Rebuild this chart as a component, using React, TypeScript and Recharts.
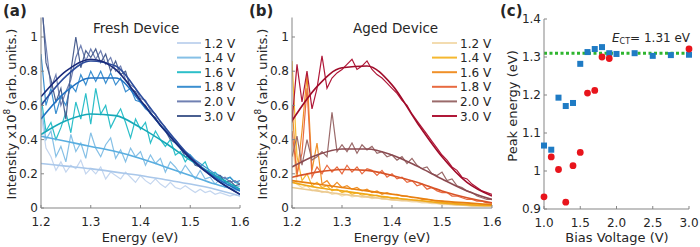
import React from 'react';
import { LineChart, Line, XAxis, YAxis, ScatterChart, Scatter, ReferenceLine, Legend } from 'recharts';

// x grid of the measured spectra (eV)
const ENERGY = [
  1.2, 1.21, 1.22, 1.23, 1.24, 1.25, 1.26, 1.27, 1.28, 1.29,
  1.3, 1.31, 1.32, 1.33, 1.34, 1.35, 1.36, 1.37, 1.38, 1.39,
  1.4, 1.41, 1.42, 1.43, 1.44, 1.45, 1.46, 1.47, 1.48, 1.49,
  1.5, 1.51, 1.52, 1.53, 1.54, 1.55, 1.56, 1.57, 1.58, 1.59, 1.6,
];
// x grid of the gaussian fits
const FIT_ENERGY = [1.2, 1.25, 1.3, 1.35, 1.4, 1.45, 1.5, 1.55, 1.6];
const VOLTAGES = ['1.2 V', '1.4 V', '1.6 V', '1.8 V', '2.0 V', '3.0 V'];

// (a) fresh device, measured
const FRESH_RAW_12 = [0.55, 0.35, 0.30, 0.22, 0.27, 0.21, 0.25, 0.23, 0.28, 0.20, 0.23, 0.20, 0.24, 0.17, 0.21, 0.19, 0.17, 0.21, 0.18, 0.15, 0.19, 0.16, 0.14, 0.17, 0.14, 0.12, 0.15, 0.12, 0.11, 0.13, 0.11, 0.09, 0.11, 0.09, 0.10, 0.08, 0.09, 0.08, 0.07, 0.08, 0.07];
const FRESH_RAW_14 = [0.60, 0.40, 0.45, 0.30, 0.36, 0.27, 0.43, 0.33, 0.38, 0.29, 0.44, 0.35, 0.30, 0.37, 0.41, 0.29, 0.34, 0.27, 0.35, 0.30, 0.33, 0.25, 0.31, 0.26, 0.29, 0.21, 0.27, 0.24, 0.20, 0.25, 0.21, 0.17, 0.22, 0.17, 0.18, 0.14, 0.17, 0.12, 0.14, 0.12, 0.13];
const FRESH_RAW_16 = [0.65, 0.45, 0.50, 0.40, 0.47, 0.56, 0.44, 0.62, 0.52, 0.67, 0.49, 0.70, 0.55, 0.60, 0.47, 0.53, 0.58, 0.50, 0.41, 0.52, 0.46, 0.50, 0.38, 0.45, 0.40, 0.36, 0.40, 0.31, 0.33, 0.27, 0.31, 0.26, 0.24, 0.27, 0.20, 0.21, 0.18, 0.16, 0.18, 0.15, 0.14];
const FRESH_RAW_18 = [0.90, 0.60, 0.70, 0.55, 0.65, 0.60, 0.72, 0.68, 0.78, 0.72, 0.80, 0.74, 0.80, 0.73, 0.79, 0.72, 0.76, 0.68, 0.70, 0.63, 0.62, 0.58, 0.56, 0.52, 0.48, 0.46, 0.42, 0.40, 0.36, 0.33, 0.31, 0.28, 0.26, 0.24, 0.22, 0.20, 0.19, 0.17, 0.18, 0.15, 0.16];
const FRESH_RAW_20 = [1.20, 0.95, 0.70, 0.78, 0.60, 0.68, 0.75, 0.88, 0.95, 0.86, 0.93, 0.87, 0.92, 0.84, 0.88, 0.80, 0.83, 0.75, 0.72, 0.70, 0.64, 0.63, 0.57, 0.55, 0.50, 0.47, 0.42, 0.40, 0.35, 0.33, 0.29, 0.27, 0.25, 0.22, 0.21, 0.19, 0.17, 0.18, 0.15, 0.16, 0.14];
const FRESH_RAW_30 = [1.30, 0.85, 0.75, 0.62, 0.70, 0.52, 0.80, 1.00, 0.82, 0.92, 0.88, 0.93, 0.85, 0.90, 0.80, 0.86, 0.78, 0.80, 0.70, 0.68, 0.62, 0.60, 0.55, 0.53, 0.48, 0.45, 0.40, 0.38, 0.35, 0.30, 0.30, 0.25, 0.24, 0.22, 0.20, 0.18, 0.19, 0.15, 0.16, 0.13, 0.14];

// (a) fresh device, fits
const FRESH_FIT_12 = [0.26, 0.245, 0.23, 0.21, 0.19, 0.165, 0.14, 0.11, 0.07];
const FRESH_FIT_14 = [0.42, 0.39, 0.36, 0.33, 0.29, 0.24, 0.19, 0.14, 0.10];
const FRESH_FIT_16 = [0.43, 0.51, 0.55, 0.54, 0.47, 0.38, 0.28, 0.19, 0.11];
const FRESH_FIT_18 = [0.52, 0.68, 0.76, 0.76, 0.62, 0.45, 0.29, 0.18, 0.10];
const FRESH_FIT_20 = [0.60, 0.77, 0.86, 0.83, 0.66, 0.47, 0.30, 0.17, 0.08];
const FRESH_FIT_30 = [0.65, 0.80, 0.87, 0.81, 0.63, 0.45, 0.29, 0.17, 0.08];

// (b) aged device, measured
const AGED_RAW_12 = [0.40, 0.14, 0.12, 0.13, 0.10, 0.11, 0.09, 0.10, 0.08, 0.085, 0.07, 0.08, 0.065, 0.07, 0.06, 0.065, 0.055, 0.06, 0.05, 0.05, 0.045, 0.045, 0.04, 0.04, 0.035, 0.035, 0.03, 0.03, 0.025, 0.025, 0.02, 0.02, 0.02, 0.015, 0.015, 0.015, 0.01, 0.01, 0.01, 0.01, 0.01];
const AGED_RAW_14 = [0.86, 0.30, 0.16, 0.20, 0.13, 0.15, 0.12, 0.13, 0.10, 0.11, 0.09, 0.10, 0.08, 0.09, 0.075, 0.08, 0.07, 0.075, 0.06, 0.065, 0.055, 0.06, 0.05, 0.05, 0.045, 0.045, 0.04, 0.04, 0.035, 0.035, 0.03, 0.03, 0.025, 0.025, 0.02, 0.02, 0.02, 0.015, 0.015, 0.015, 0.015];
const AGED_RAW_16 = [0.60, 0.18, 0.45, 0.78, 0.22, 0.38, 0.14, 0.16, 0.12, 0.15, 0.12, 0.13, 0.11, 0.12, 0.10, 0.11, 0.09, 0.10, 0.08, 0.09, 0.08, 0.08, 0.07, 0.07, 0.06, 0.06, 0.05, 0.05, 0.045, 0.04, 0.04, 0.035, 0.035, 0.03, 0.03, 0.03, 0.025, 0.025, 0.02, 0.02, 0.02];
const AGED_RAW_18 = [0.45, 0.20, 0.32, 0.70, 0.18, 0.24, 0.20, 0.25, 0.21, 0.24, 0.20, 0.25, 0.21, 0.24, 0.20, 0.23, 0.22, 0.19, 0.22, 0.18, 0.20, 0.17, 0.18, 0.15, 0.16, 0.13, 0.14, 0.11, 0.12, 0.10, 0.09, 0.09, 0.07, 0.07, 0.06, 0.05, 0.05, 0.04, 0.04, 0.03, 0.03];
const AGED_RAW_20 = [0.30, 0.42, 0.25, 0.40, 0.28, 0.30, 0.33, 0.30, 0.56, 0.33, 0.37, 0.33, 0.38, 0.32, 0.37, 0.34, 0.36, 0.32, 0.33, 0.30, 0.31, 0.28, 0.30, 0.26, 0.29, 0.25, 0.23, 0.24, 0.20, 0.19, 0.21, 0.16, 0.17, 0.13, 0.12, 0.10, 0.09, 0.07, 0.06, 0.05, 0.05];
const AGED_RAW_30 = [0.50, 0.84, 0.62, 0.80, 0.58, 0.70, 0.89, 0.70, 0.76, 0.79, 0.81, 0.84, 0.87, 0.81, 0.83, 0.86, 0.81, 0.78, 0.76, 0.73, 0.70, 0.67, 0.63, 0.60, 0.55, 0.51, 0.47, 0.43, 0.39, 0.35, 0.31, 0.28, 0.24, 0.22, 0.18, 0.17, 0.14, 0.12, 0.10, 0.09, 0.08];

// (b) aged device, fits
const AGED_FIT_12 = [0.12, 0.10, 0.08, 0.065, 0.05, 0.04, 0.025, 0.015, 0.01];
const AGED_FIT_14 = [0.15, 0.12, 0.10, 0.08, 0.06, 0.045, 0.03, 0.02, 0.015];
const AGED_FIT_16 = [0.16, 0.14, 0.12, 0.10, 0.08, 0.06, 0.04, 0.03, 0.02];
const AGED_FIT_18 = [0.18, 0.21, 0.225, 0.22, 0.19, 0.15, 0.10, 0.06, 0.03];
const AGED_FIT_20 = [0.24, 0.31, 0.345, 0.345, 0.31, 0.245, 0.17, 0.10, 0.05];
const AGED_FIT_30 = [0.51, 0.71, 0.82, 0.83, 0.72, 0.50, 0.30, 0.15, 0.07];

// (c) peak energy vs bias
const FRESH_BIAS = [1.0, 1.1, 1.2, 1.3, 1.4, 1.5, 1.6, 1.7, 1.8, 1.9, 2.0, 2.25, 2.5, 2.75, 3.0];
const FRESH_PEAK = [1.067, 1.056, 1.193, 1.171, 1.179, 1.282, 1.313, 1.321, 1.326, 1.31, 1.308, 1.31, 1.303, 1.305, 1.306];
const AGED_BIAS = [1.0, 1.1, 1.2, 1.3, 1.4, 1.5, 1.6, 1.7, 1.8, 1.9, 3.0];
const AGED_PEAK = [0.932, 1.037, 1.004, 0.918, 1.014, 1.049, 1.205, 1.212, 1.3, 1.296, 1.321];
const E_CT = 1.31;

const FRESH_RAW_COLORS = ['#c4d6ef', '#86c0e6', '#2cbfc9', '#3b8fd0', '#7080b2', '#4a5f90'];
const FRESH_FIT_COLORS = ['#a9c7ea', '#5aaee0', '#17a9b8', '#2072c2', '#2c4c9c', '#1a2a7a'];
const AGED_RAW_COLORS = ['#f3dcb0', '#f5b830', '#f09028', '#e86a40', '#9a6a6a', '#b01838'];
const AGED_FIT_COLORS = ['#ebc98f', '#f0a818', '#e88010', '#d85428', '#8a4a50', '#a00c2a'];

const FONT = '"DejaVu Sans", Verdana, sans-serif';
const AXIS = '#858585';
const TEXT = '#262626';

const buildRows = (raw: number[][], fit: number[][]) =>
  ENERGY.map((e, i) => {
    const row: any = { e };
    raw.forEach((s, k) => { row['r' + k] = s[i]; });
    const j = FIT_ENERGY.findIndex((f) => Math.abs(f - e) < 1e-6);
    fit.forEach((s, k) => { row['f' + k] = j >= 0 ? s[j] : null; });
    return row;
  });

const freshRows = buildRows(
  [FRESH_RAW_12, FRESH_RAW_14, FRESH_RAW_16, FRESH_RAW_18, FRESH_RAW_20, FRESH_RAW_30],
  [FRESH_FIT_12, FRESH_FIT_14, FRESH_FIT_16, FRESH_FIT_18, FRESH_FIT_20, FRESH_FIT_30],
);
const agedRows = buildRows(
  [AGED_RAW_12, AGED_RAW_14, AGED_RAW_16, AGED_RAW_18, AGED_RAW_20, AGED_RAW_30],
  [AGED_FIT_12, AGED_FIT_14, AGED_FIT_16, AGED_FIT_18, AGED_FIT_20, AGED_FIT_30],
);
const freshPoints = FRESH_BIAS.map((v, i) => ({ v, p: FRESH_PEAK[i] }));
const agedPoints = AGED_BIAS.map((v, i) => ({ v, p: AGED_PEAK[i] }));

const tickStyle = { fontSize: 12, fill: TEXT, fontFamily: FONT };
const fmtY = (v: number) => (v === 0 ? '0' : v === 1 ? '1' : v.toFixed(1));

const LegendBox = ({ colors, lineLen, gap }: { colors: string[]; lineLen: number; gap: number }) => (
  <svg width={80} height={95} style={{ overflow: 'visible' }}>
    {VOLTAGES.map((name, k) => {
      const y = 8 + k * 14.6;
      return (
        <g key={name}>
          <line x1={0} x2={lineLen} y1={y} y2={y} stroke={colors[k]} strokeWidth={2} />
          <text x={lineLen + gap} y={y + 4.5} fontSize={12} fill={TEXT} fontFamily={FONT}>{name}</text>
        </g>
      );
    })}
  </svg>
);

const SpectrumChart = ({ rows, rawColors, fitColors, left, width, marginLeft, marginRight, legendLeft, lineLen }: any) => (
  <div style={{ position: 'absolute', left, top: 0 }}>
    <LineChart width={width} height={247} data={rows} margin={{ top: 17.5, right: marginRight, bottom: 19, left: marginLeft }}>
      <XAxis dataKey="e" type="number" domain={[1.2, 1.6]} ticks={[1.2, 1.3, 1.4, 1.5, 1.6]} allowDataOverflow
        tickFormatter={(v: number) => v.toFixed(1)} stroke={AXIS} tick={tickStyle} tickSize={-3} tickMargin={12} height={20} />
      <XAxis xAxisId="top" orientation="top" type="number" domain={[1.2, 1.6]} ticks={[1.2, 1.3, 1.4, 1.5, 1.6]}
        stroke={AXIS} tick={false} tickSize={-3} height={0} />
      <YAxis type="number" domain={[0, 1.114]} ticks={[0, 0.2, 0.4, 0.6, 0.8, 1]} allowDataOverflow
        tickFormatter={fmtY} stroke={AXIS} tick={tickStyle} tickSize={-3} tickMargin={6} width={30} />
      <YAxis yAxisId="right" orientation="right" type="number" domain={[0, 1.114]} ticks={[0, 0.2, 0.4, 0.6, 0.8, 1]}
        stroke={AXIS} tick={false} tickSize={-3} width={0} />
      <Legend layout="vertical" align="center" verticalAlign="middle"
        wrapperStyle={{ position: 'absolute', left: legendLeft, top: 35, width: 80 }}
        content={() => <LegendBox colors={rawColors} lineLen={lineLen} gap={3} />} />
      {rawColors.map((c: string, k: number) => (
        <Line key={'r' + k} dataKey={'r' + k} type="linear" stroke={c} strokeWidth={1.2} dot={false}
          isAnimationActive={false} legendType="none" />
      ))}
      {fitColors.map((c: string, k: number) => (
        <Line key={'f' + k} dataKey={'f' + k} type="monotone" stroke={c} strokeWidth={1.6} dot={false}
          connectNulls isAnimationActive={false} legendType="none" />
      ))}
    </LineChart>
  </div>
);

const Square = (p: any) => <rect x={p.cx - 3} y={p.cy - 3} width={6} height={6} fill="#1f7bc4" />;
const Dot = (p: any) => <circle cx={p.cx} cy={p.cy} r={3.4} fill="#e8141c" />;

const PeakChart = () => (
  <div style={{ position: 'absolute', left: 500, top: 0 }}>
    <ScatterChart width={200} height={247} margin={{ top: 19, right: 11, bottom: 18, left: 14 }}>
      <XAxis dataKey="v" type="number" domain={[1, 3]} ticks={[1, 1.5, 2, 2.5, 3]}
        tickFormatter={(v: number) => v.toFixed(1)} stroke={AXIS} tick={tickStyle} tickSize={-3} tickMargin={12} height={20} />
      <XAxis xAxisId="top" orientation="top" type="number" domain={[1, 3]} ticks={[1, 1.5, 2, 2.5, 3]}
        stroke={AXIS} tick={false} tickSize={-3} height={0} />
      <YAxis dataKey="p" type="number" domain={[0.9, 1.4]} ticks={[0.9, 1, 1.1, 1.2, 1.3, 1.4]} allowDataOverflow
        tickFormatter={fmtY} stroke={AXIS} tick={tickStyle} tickSize={-3} tickMargin={6} width={30} />
      <YAxis yAxisId="right" orientation="right" type="number" domain={[0.9, 1.4]} ticks={[0.9, 1, 1.1, 1.2, 1.3, 1.4]}
        stroke={AXIS} tick={false} tickSize={-3} width={0} />
      <ReferenceLine y={E_CT} stroke="#2fb52f" strokeWidth={3} strokeDasharray="3 2.5" />
      <Scatter data={freshPoints} shape={Square} isAnimationActive={false} />
      <Scatter data={agedPoints} shape={Dot} isAnimationActive={false} />
    </ScatterChart>
  </div>
);

const YTitle = ({ x, y, children }: any) => (
  <text transform={`translate(${x},${y}) rotate(-90)`} textAnchor="middle" fontSize={13} fill={TEXT} fontFamily={FONT}>
    {children}
  </text>
);

const Intensity = () => (
  <>
    Intensity x10<tspan dy={-6} fontSize={9}>8</tspan><tspan dy={6}> (arb. units.)</tspan>
  </>
);

export default function App() {
  return (
    <div style={{ position: 'absolute', left: 0, top: 0, width: 700, height: 247, background: '#fff', overflow: 'hidden' }}>
      <SpectrumChart rows={freshRows} rawColors={FRESH_RAW_COLORS} fitColors={FRESH_FIT_COLORS}
        left={0} width={250} marginLeft={11} marginRight={10} legendLeft={177} lineLen={24} />
      <SpectrumChart rows={agedRows} rawColors={AGED_RAW_COLORS} fitColors={AGED_FIT_COLORS}
        left={250} width={262} marginLeft={12} marginRight={20} legendLeft={182} lineLen={25} />
      <PeakChart />
      <svg width={700} height={247} style={{ position: 'absolute', left: 0, top: 0, pointerEvents: 'none' }}>
        <g fontFamily={FONT} fill={TEXT}>
          <text x={3} y={16} fontSize={15} fontWeight="bold">(a)</text>
          <text x={249} y={16} fontSize={15} fontWeight="bold">(b)</text>
          <text x={500} y={16} fontSize={15} fontWeight="bold">(c)</text>
          <text x={93} y={33} fontSize={13.5}>Fresh Device</text>
          <text x={353} y={33} fontSize={13.5}>Aged Device</text>
          <text x={140} y={242} fontSize={13} textAnchor="middle">Energy (eV)</text>
          <text x={392} y={242} fontSize={13} textAnchor="middle">Energy (eV)</text>
          <text x={617} y={242} fontSize={13} textAnchor="middle">Bias Voltage (V)</text>
          <text x={612} y={42} fontSize={12}>
            <tspan fontStyle="italic">E</tspan><tspan fontSize={8} dy={2}>CT</tspan><tspan dy={-2}>= 1.31 eV</tspan>
          </text>
        </g>
        <YTitle x={16} y={114}><Intensity /></YTitle>
        <YTitle x={267} y={114}><Intensity /></YTitle>
        <YTitle x={517} y={106}>Peak energy (eV)</YTitle>
      </svg>
    </div>
  );
}
